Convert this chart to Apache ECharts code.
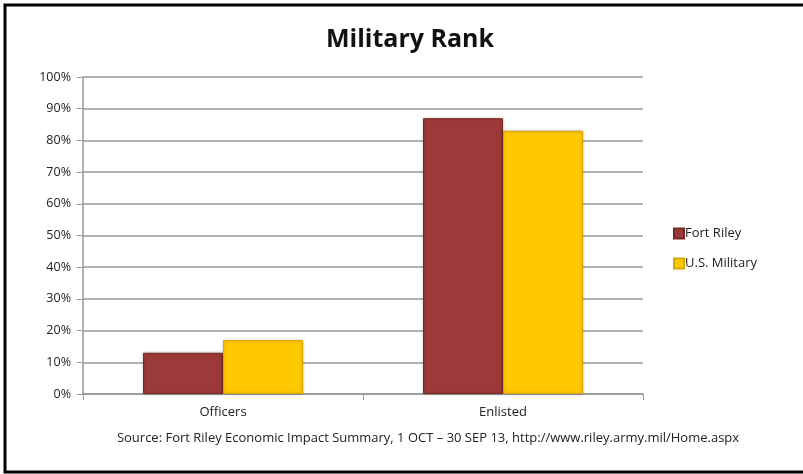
<!DOCTYPE html>
<html>
<head>
<meta charset="utf-8">
<script src="https://cdn.jsdelivr.net/npm/echarts@6/dist/echarts.min.js"></script>
<style>
html,body{margin:0;padding:0;background:#fff;}
#c{width:803px;height:474px;}
</style>
</head>
<body>
<div id="c"></div>
<script>
const categories = ['Officers', 'Enlisted'];
const fortRiley = [13, 87];
const usMilitary = [17, 83];
const seriesNames = ['Fort Riley', 'U.S. Military'];
const titleText = 'Military Rank';
const sourceText = 'Source: Fort Riley Economic Impact Summary, 1 OCT \u2013 30 SEP 13, http://www.riley.army.mil/Home.aspx';

const chart = echarts.init(document.getElementById('c'));
const font = 'Open Sans, Noto Sans, sans-serif';
chart.setOption({
  animation: false,
  backgroundColor: '#fff',
  title: {
    text: titleText,
    left: 405, top: 22, textAlign: 'center',
    textStyle: {fontFamily: font, fontWeight: 'bold', fontSize: 25, color: '#111'}
  },
  legend: {
    orient: 'vertical',
    left: 668, top: 222,
    itemWidth: 10, itemHeight: 10, itemGap: 17,
    icon: 'rect',
    textStyle: {fontFamily: font, fontSize: 13, color: '#222', padding: [0,0,0,-4]},
    data: seriesNames
  },
  grid: {left: 83, right: 803 - 643, top: 77, bottom: 474 - 394, containLabel: false},
  xAxis: {
    type: 'category',
    data: categories,
    axisLine: {lineStyle: {color: '#999', width: 1.5}},
    axisTick: {show: true, length: 6, lineStyle: {color: '#999'}},
    axisLabel: {fontFamily: font, fontSize: 13, color: '#222', margin: 12},
  },
  yAxis: {
    type: 'value', min: 0, max: 100, interval: 10,
    axisLine: {show: true, lineStyle: {color: '#999', width: 1.5}},
    axisTick: {show: true, length: 6, lineStyle: {color: '#999'}},
    axisLabel: {formatter: '{value}%', fontFamily: font, fontSize: 12.5, color: '#222', margin: 12},
    splitLine: {lineStyle: {color: '#999', width: 1.5}}
  },
  series: [
    {
      name: seriesNames[0], type: 'bar', data: fortRiley,
      barWidth: 80, barGap: '0%',
      itemStyle: {color: '#9B3A38', borderColor: '#7a2826', borderWidth: 1,
        shadowColor: 'rgba(0,0,0,0.25)', shadowBlur: 3}
    },
    {
      name: seriesNames[1], type: 'bar', data: usMilitary,
      barWidth: 80, barGap: '0%',
      itemStyle: {color: '#FFC800', borderColor: '#d9a800', borderWidth: 1,
        shadowColor: 'rgba(0,0,0,0.25)', shadowBlur: 3}
    }
  ],
  graphic: [
    {type: 'rect', shape: {x: 5, y: 5, width: 806, height: 467}, style: {fill: 'none', stroke: '#000', lineWidth: 3}, silent: true},
    {type: 'text', x: 428, y: 438,
      style: {text: sourceText, fontFamily: font, fontSize: 13, fill: '#222', align: 'center', verticalAlign: 'middle'}}
  ]
});
</script>
</body>
</html>
